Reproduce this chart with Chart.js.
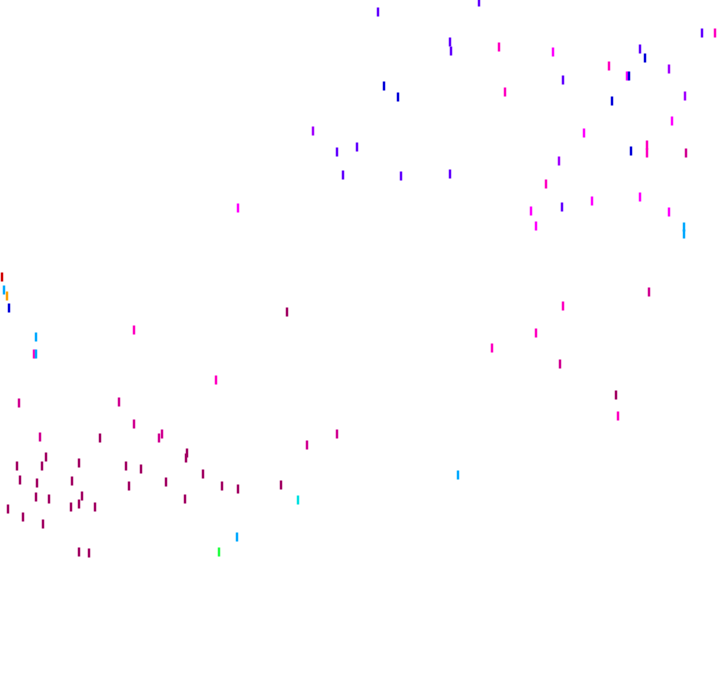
<!DOCTYPE html>
<html>
<head>
<meta charset="utf-8">
<script src="https://cdn.jsdelivr.net/npm/chart.js@4"></script>
<style>
  html, body { margin: 0; padding: 0; background: #fff; }
  #wrap { width: 720px; height: 692px; }
</style>
</head>
<body>
<div id="wrap"><canvas id="chart"></canvas></div>
<script>
const xs = [378,479,450,451,499,553,640,645,702,715,609,627,629,669,563,384,398,505,612,685,
            672,584,313,337,357,631,647,647,686,559,546,343,401,450,531,562,592,640,669,536,
            684,684,238,2,4,7,9,36,34,36,134,287,216,19,119,134,40,100,159,162,
            187,186,46,17,42,79,126,141,20,72,37,129,166,203,222,238,281,337,307,36,
            49,82,79,95,71,8,23,43,185,79,89,298,237,219,458,649,563,536,492,560,
            616,618];
const ys = [12,2,42,51,47,52,49,58,33,33,66,76,76,69,80,86,97,92,101,96,
            121,133,131,152,147,151,145,153,153,161,184,175,176,174,211,207,201,197,212,226,
            227,234,208,277,290,296,308,337,354,354,330,312,380,403,402,424,437,438,438,434,
            453,458,457,466,466,463,466,469,480,481,483,486,482,474,486,489,485,434,445,497,
            499,496,504,507,507,509,517,524,499,552,553,500,537,552,475,292,306,333,348,364,
            395,416];
// colour group of each point
const groups = [6,6,6,6,9,8,6,5,6,9,9,8,5,7,6,5,5,9,5,7,
                8,8,7,6,6,5,9,9,10,7,9,6,6,6,8,6,8,8,8,8,
                4,4,8,0,4,1,5,4,9,4,9,11,9,10,10,10,10,11,10,10,
                11,11,11,11,11,11,11,11,11,11,11,11,11,11,11,11,11,10,10,11,
                11,11,11,11,11,11,11,11,11,11,11,3,4,2,4,10,9,9,9,10,
                11,9];

const palette = ['#d00000','#ffa000','#20ff40','#00e0e0','#00a8ff','#0000d8',
                 '#6000ff','#a000ff','#ff00ff','#ff00c0','#d00090','#a00060'];

const points = xs.map((x, i) => ({ x: x, y: ys[i] }));
const colours = groups.map(g => palette[g]);

new Chart(document.getElementById('chart').getContext('2d'), {
    type: 'scatter',
    data: {
        datasets: [{
            data: points,
            pointStyle: 'line',
            rotation: 90,
            radius: 4.5,
            hoverRadius: 4.5,
            borderWidth: 2.5,
            borderColor: colours,
            backgroundColor: colours
        }]
    },
    options: {
        responsive: true,
        maintainAspectRatio: false,
        animation: false,
        clip: false,
        layout: { padding: 0, autoPadding: false },
        plugins: {
            legend: { display: false },
            tooltip: { enabled: false }
        },
        scales: {
            x: { type: 'linear', min: 0, max: 720, display: false },
            y: { type: 'linear', min: 0, max: 692, reverse: true, display: false }
        }
    }
});
</script>
</body>
</html>
